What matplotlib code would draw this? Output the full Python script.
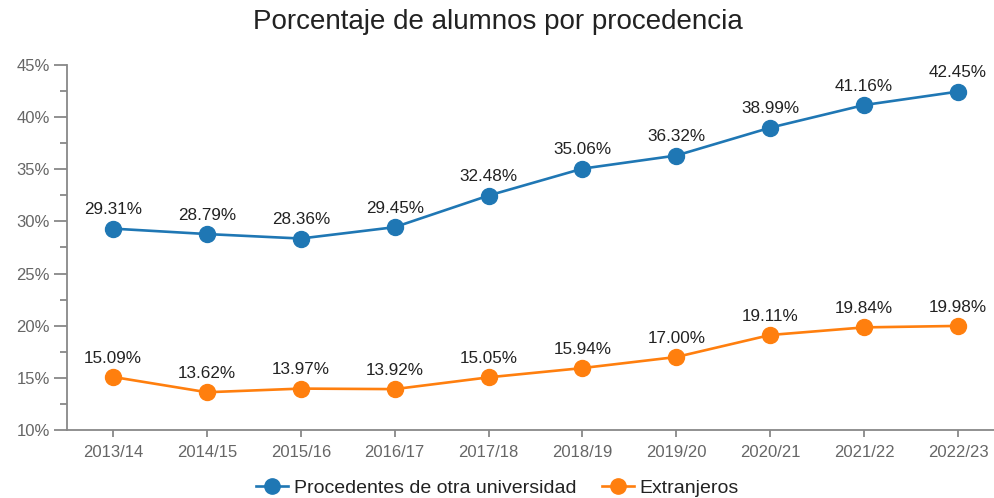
import matplotlib
matplotlib.use("Agg")
import matplotlib.pyplot as plt
from matplotlib.ticker import MultipleLocator, FuncFormatter
from matplotlib.lines import Line2D

plt.rcParams['font.family'] = ['Liberation Sans', 'DejaVu Sans']

years = ["2013/14", "2014/15", "2015/16", "2016/17", "2017/18",
         "2018/19", "2019/20", "2020/21", "2021/22", "2022/23"]
otra_universidad = [29.31, 28.79, 28.36, 29.45, 32.48, 35.06, 36.32, 38.99, 41.16, 42.45]
extranjeros = [15.09, 13.62, 13.97, 13.92, 15.05, 15.94, 17.00, 19.11, 19.84, 19.98]
series_names = ["Procedentes de otra universidad", "Extranjeros"]
colors = ["#1f77b4", "#ff7f0e"]

W, H = 995, 498
fig = plt.figure(figsize=(W / 100, H / 100), dpi=100)
left, right, bottom, top = 67, 995, 430, 65
ax = fig.add_axes([left / W, (H - bottom) / H, (right - left) / W, (bottom - top) / H])

x = list(range(len(years)))
for vals, c in zip([otra_universidad, extranjeros], colors):
    ax.plot(x, vals, color=c, lw=1.9, marker='o', markersize=11.5, clip_on=False, zorder=3)
    for xi, v in zip(x, vals):
        ax.annotate(f"{v:.2f}%", (xi, v), xytext=(0, 13.5), textcoords='offset points',
                    ha='center', va='center', fontsize=12.3, color='#222222')

step = 93.9
ax.set_xlim(-(113 - left) / step, 9 + (right - 958) / step)
ax.set_ylim(10, 45)
ax.set_xticks(x)
ax.set_xticklabels(years)
ax.yaxis.set_major_locator(MultipleLocator(5))
ax.yaxis.set_minor_locator(MultipleLocator(2.5))
ax.yaxis.set_major_formatter(FuncFormatter(lambda v, p: f"{v:.0f}%"))

for s in ['top', 'right']:
    ax.spines[s].set_visible(False)
for s in ['left', 'bottom']:
    ax.spines[s].set_color('#888888')
    ax.spines[s].set_linewidth(1.3)
ax.tick_params(axis='y', which='major', length=9.5, width=1.3, color='#888888',
               labelcolor='#666666', labelsize=12, pad=3)
ax.tick_params(axis='y', which='minor', length=5, width=1.3, color='#888888')
ax.tick_params(axis='x', which='major', length=5, width=1.3, color='#888888',
               labelcolor='#666666', labelsize=12, pad=6)

fig.text(0.5, 1 - 22 / H, "Porcentaje de alumnos por procedencia", ha='center', va='center',
         fontsize=20, color='#222222')

handles = [Line2D([0], [0], color=c, lw=1.9, marker='o', markersize=11) for c in colors]
fig.legend(handles, series_names, loc='center', bbox_to_anchor=(0.5, 1 - 488 / H), ncol=2,
           frameon=False, fontsize=14, handlelength=1.65, handletextpad=0.3, columnspacing=1.3,
           labelcolor='#222222', borderpad=0.1)

fig.savefig("out.png", dpi=100)
